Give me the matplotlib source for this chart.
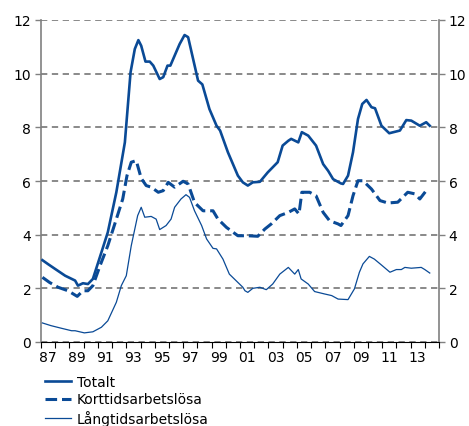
import matplotlib
matplotlib.use("Agg")
import matplotlib.pyplot as plt
from matplotlib.ticker import FixedLocator, NullFormatter

# Arbetslöshet, procent av arbetskraften
totalt_ar = [1987.1, 1987.5, 1988.0, 1988.7, 1989.4, 1989.6, 1989.95, 1990.3, 1990.65, 1991.25,
             1991.7, 1992.3, 1992.9, 1993.3, 1993.6, 1993.85, 1994.05, 1994.35, 1994.65, 1994.9,
             1995.35, 1995.6, 1995.9, 1996.1, 1996.4, 1996.75, 1997.1, 1997.35, 1997.7, 1998.05,
             1998.35, 1998.85, 1999.35, 1999.6, 2000.15, 2000.85, 2001.2, 2001.55, 2001.9, 2002.4,
             2002.95, 2003.65, 2004.0, 2004.4, 2004.6, 2005.1, 2005.35, 2005.8, 2006.35, 2006.85,
             2007.2, 2007.55, 2008.1, 2008.25, 2008.6, 2008.95, 2009.3, 2009.6, 2009.9, 2010.25,
             2010.5, 2010.95, 2011.5, 2012.25, 2012.7, 2013.05, 2013.65, 2014.1, 2014.35]
totalt = [3.05, 2.9, 2.72, 2.47, 2.29, 2.1, 2.19, 2.16, 2.35, 3.34,
          4.09, 5.58, 7.44, 10.05, 10.92, 11.25, 11.04, 10.45, 10.45, 10.3,
          9.8, 9.87, 10.3, 10.3, 10.67, 11.1, 11.44, 11.36, 10.55, 9.74,
          9.6, 8.68, 8.06, 7.88, 7.07, 6.2, 5.95, 5.83, 5.95, 5.97,
          6.32, 6.7, 7.32, 7.5, 7.57, 7.44, 7.82, 7.69, 7.32, 6.63,
          6.38, 6.07, 5.91, 5.89, 6.2, 7.07, 8.31, 8.87, 9.02, 8.75,
          8.71, 8.06, 7.78, 7.88, 8.27, 8.25, 8.06, 8.19, 8.06]

kort_ar = [1987.1, 1987.6, 1988.2, 1988.9, 1989.55, 1989.95, 1990.3, 1990.65, 1991.15, 1991.7,
           1992.3, 1992.75, 1993.05, 1993.35, 1993.7, 1994.05, 1994.4, 1994.75, 1995.25, 1995.6,
           1995.95, 1996.4, 1997.0, 1997.35, 1997.8, 1998.4, 1999.1, 1999.45, 2000.05, 2000.85,
           2001.55, 2002.25, 2002.75, 2003.2, 2003.8, 2004.4, 2004.85, 2005.15, 2005.35, 2005.9,
           2006.35, 2006.85, 2007.3, 2007.9, 2008.1, 2008.6, 2008.95, 2009.3, 2009.65, 2010.25,
           2010.85, 2011.4, 2012.1, 2012.8, 2013.3, 2013.65, 2014.1, 2014.25]
kort = [2.41, 2.22, 2.04, 1.91, 1.7, 1.91, 1.91, 2.1, 2.84, 3.59,
        4.58, 5.33, 6.2, 6.7, 6.76, 6.1, 5.83, 5.77, 5.58, 5.64,
        5.95, 5.77, 5.99, 5.89, 5.2, 4.89, 4.89, 4.58, 4.27, 3.96,
        3.96, 3.94, 4.21, 4.4, 4.71, 4.83, 4.96, 4.77, 5.58, 5.58,
        5.45, 4.83, 4.52, 4.4, 4.34, 4.71, 5.45, 6.01, 6.01, 5.7,
        5.27, 5.18, 5.21, 5.58, 5.52, 5.33, 5.64, 5.58]

lang_ar = [1987.1, 1987.7, 1988.45, 1989.15, 1989.4, 1990.05, 1990.65, 1991.25, 1991.7, 1992.3,
           1992.65, 1993.0, 1993.35, 1993.8, 1994.05, 1994.3, 1994.75, 1995.1, 1995.35, 1995.8,
           1996.15, 1996.4, 1996.85, 1997.2, 1997.45, 1997.8, 1998.3, 1998.65, 1999.1, 1999.35,
           1999.8, 2000.25, 2000.85, 2001.2, 2001.35, 2001.55, 2001.9, 2002.4, 2002.85, 2003.3,
           2003.8, 2004.4, 2004.85, 2005.1, 2005.3, 2005.8, 2006.25, 2006.95, 2007.45, 2007.9,
           2008.6, 2009.05, 2009.4, 2009.65, 2010.1, 2010.45, 2010.95, 2011.55, 2012.0, 2012.35,
           2012.6, 2013.05, 2013.75, 2014.0, 2014.35]
lang = [0.71, 0.61, 0.51, 0.42, 0.42, 0.34, 0.38, 0.55, 0.79, 1.48,
        2.1, 2.47, 3.59, 4.71, 5.02, 4.65, 4.68, 4.58, 4.19, 4.34,
        4.58, 5.02, 5.33, 5.49, 5.39, 4.89, 4.34, 3.84, 3.49, 3.47,
        3.09, 2.53, 2.22, 2.04, 1.91, 1.85, 2.0, 2.04, 1.95, 2.16,
        2.53, 2.78, 2.53, 2.7, 2.35, 2.16, 1.88, 1.79, 1.73, 1.6,
        1.58, 1.98, 2.6, 2.91, 3.19, 3.09, 2.87, 2.6, 2.7, 2.7,
        2.78, 2.75, 2.78, 2.7, 2.57]

ar_etiketter = ["87", "89", "91", "93", "95", "97", "99", "01", "03", "05", "07", "09", "11", "13"]

bla = "#0a4a96"
gra = "#808080"

fig = plt.figure(figsize=(4.69, 4.27), dpi=100)
ax = fig.add_axes([41 / 469, 1 - 343 / 427, 398 / 469, 322 / 427])

ax.plot(totalt_ar, totalt, color=bla, lw=1.9, label="Totalt", zorder=3)
ax.plot(kort_ar, kort, color=bla, lw=2.2, dashes=(3.8, 1.6), label="Korttidsarbetslösa", zorder=3)
ax.plot(lang_ar, lang, color=bla, lw=0.9, label="Långtidsarbetslösa", zorder=3)

ax.set_xlim(1987, 2015)
ax.set_ylim(0, 12)
ax.set_yticks(range(0, 13, 2))
ax.yaxis.grid(True, color=gra, ls=(0, (3.5, 2.5)), lw=1.3)
ax.set_axisbelow(True)

# årsstreck vid varje årsskifte, etiketter mitt i året
ax.xaxis.set_minor_locator(FixedLocator(range(1987, 2016)))
ax.xaxis.set_minor_formatter(NullFormatter())
ax.set_xticks([1987.5 + 2 * i for i in range(len(ar_etiketter))])
ax.set_xticklabels(ar_etiketter)
ax.tick_params(axis="x", which="major", length=0, labelsize=10, pad=6)
ax.tick_params(axis="x", which="minor", length=4, color="black", width=0.8)
ax.tick_params(axis="y", length=4, color=gra, width=1, labelsize=10,
               left=True, right=True, labelleft=True, labelright=True, pad=3)

ax.spines["top"].set_visible(False)
ax.spines["left"].set_color(gra)
ax.spines["right"].set_color(gra)
ax.spines["left"].set_linewidth(1.2)
ax.spines["right"].set_linewidth(1.2)
ax.spines["bottom"].set_color("black")
ax.spines["bottom"].set_linewidth(0.8)

fig.legend(loc="upper left", bbox_to_anchor=(45 / 469, 1 - 376 / 427), frameon=False,
           fontsize=10, handlelength=1.9, labelspacing=0.25, handletextpad=0.4,
           borderaxespad=0, borderpad=0)

fig.savefig("out.png", dpi=100)
